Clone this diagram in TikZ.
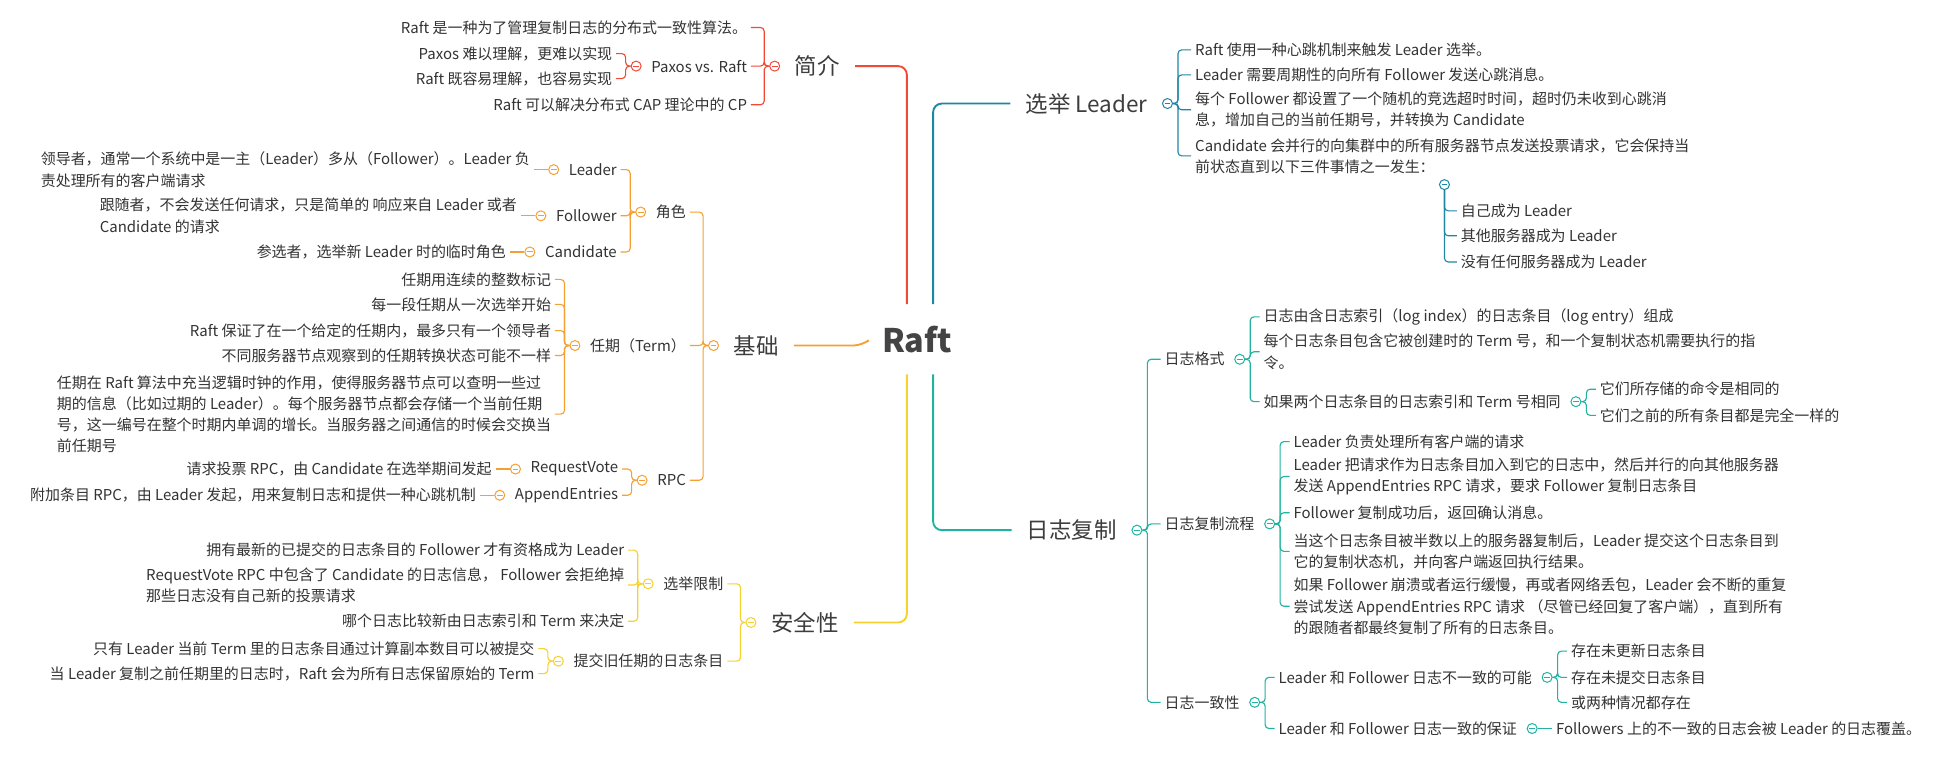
\documentclass[tikz,border=0pt]{standalone}
\usepackage{fontspec}
\setmainfont{Noto Sans CJK SC}
\definecolor{cred}{HTML}{EF4A36}
\definecolor{cora}{HTML}{F5A032}
\definecolor{cyel}{HTML}{F7D12E}
\definecolor{cblu}{HTML}{1F87A6}
\definecolor{cgrn}{HTML}{1FB3A0}
\definecolor{ctxt}{HTML}{333333}
\definecolor{cmain}{HTML}{3D3D3D}
\definecolor{craft}{HTML}{444444}
\tikzset{
  tx/.style={inner sep=0pt, text=ctxt, font=\fontsize{12}{17}\selectfont, align=left},
  tmain/.style={inner sep=0pt, text=cmain, font=\fontsize{18}{20}\selectfont},
  mk/.style={circle, draw=#1, fill=white, minimum size=8pt, inner sep=0pt, line width=0.8pt,
    path picture={\draw[#1, line width=0.8pt] ([xshift=-2.3pt]path picture bounding box.center) -- ([xshift=2.3pt]path picture bounding box.center);}},
  br/.style={draw=#1, line width=0.9pt, rounded corners=3pt},
  ml/.style={draw=#1, line width=1.5pt, rounded corners=7pt},
}
\begin{document}
\begin{tikzpicture}[x=1pt,y=-1pt]
\useasboundingbox (0,0) rectangle (1568,607);
\fill[white] (0,0) rectangle (1568,607);

% centre
\node[font=\fontsize{26}{30}\selectfont\bfseries, text=craft, inner sep=0pt, minimum width=80pt, minimum height=56pt] (raft) at (735,272) {Raft};

% ================= 简介 =================
\node[tmain, anchor=west] (jj) at (637,53) {简介};
\node[mk=cred] (jjm) at ([xshift=-16pt]jj.west) {};
\node[tx, anchor=east] (jj1) at ([xshift=-38pt,yshift=31pt]jj.west) {Raft 是一种为了管理复制日志的分布式一致性算法。};
\node[tx, anchor=east] (jj2) at ([xshift=-38pt]jj.west) {Paxos vs. Raft};
\node[tx, anchor=east] (jj3) at ([xshift=-38pt,yshift=-31pt]jj.west) {Raft 可以解决分布式 CAP 理论中的 CP};
\node[mk=cred] (jj2m) at ([xshift=-12pt]jj2.west) {};
\node[tx, anchor=east] (jj21) at ([xshift=-31pt,yshift=10pt]jj2.west) {Paxos 难以理解，更难以实现};
\node[tx, anchor=east] (jj22) at ([xshift=-31pt,yshift=-10pt]jj2.west) {Raft 既容易理解，也容易实现};
\draw[ml=cred] ([xshift=12pt]jj.east) -| ([xshift=-8pt]raft.north);
\foreach \c in {jj1,jj2,jj3} \draw[br=cred] (jjm.west) -- ++(-4,0) |- ([xshift=3pt]\c.east);
\foreach \c in {jj21,jj22} \draw[br=cred] (jj2m.west) -- ++(-4,0) |- ([xshift=3pt]\c.east);

% ================= 基础 =================
\node[tmain, anchor=west] (jc) at (588,277) {基础};
\node[mk=cora] (jcm) at ([xshift=-16pt]jc.west) {};
\node[tx, anchor=east] (js) at ([xshift=-38pt,yshift=107pt]jc.west) {角色};
\node[tx, anchor=east] (rq) at ([xshift=-38pt]jc.west) {任期（Term）};
\node[tx, anchor=east] (rpc) at ([xshift=-38pt,yshift=-108pt]jc.west) {RPC};
\draw[ml=cora] ([xshift=12pt]jc.east) -- ([xshift=-4pt]raft.west |- jc.east) -- ([yshift=3pt]raft.west |- jc.east);
\foreach \c in {js,rq,rpc} \draw[br=cora] (jcm.west) -- ++(-4,0) |- ([xshift=3pt]\c.east);

% 角色
\node[mk=cora] (jsm) at ([xshift=-12pt]js.west) {};
\node[tx, anchor=east] (ld) at ([xshift=-31pt,yshift=34pt]js.west) {Leader};
\node[tx, anchor=east] (fl) at ([xshift=-31pt,yshift=-3pt]js.west) {Follower};
\node[tx, anchor=east] (cd) at ([xshift=-31pt,yshift=-32pt]js.west) {Candidate};
\foreach \c in {ld,fl,cd} \draw[br=cora] (jsm.west) -- ++(-4,0) |- ([xshift=3pt]\c.east);
\node[mk=cora] (ldm) at ([xshift=-12pt]ld.west) {};
\node[mk=cora] (flm) at ([xshift=-12pt]fl.west) {};
\node[mk=cora] (cdm) at ([xshift=-12pt]cd.west) {};
\node[tx, anchor=east] (ld1) at ([xshift=-31pt]ld.west) {领导者，通常一个系统中是一主（Leader）多从（Follower）。Leader 负\\责处理所有的客户端请求};
\node[tx, anchor=east] (fl1) at ([xshift=-31pt]fl.west) {跟随者，不会发送任何请求，只是简单的 响应来自 Leader 或者\\Candidate 的请求};
\node[tx, anchor=east] (cd1) at ([xshift=-31pt]cd.west) {参选者，选举新 Leader 时的临时角色};
\draw[br=cora] ([xshift=3pt]ld1.east) -- (ldm.west);
\draw[br=cora] ([xshift=3pt]fl1.east) -- (flm.west);
\draw[br=cora] ([xshift=3pt]cd1.east) -- (cdm.west);

% 任期
\node[mk=cora] (rqm) at ([xshift=-12pt]rq.west) {};
\node[tx, anchor=east] (rq1) at ([xshift=-31pt,yshift=53pt]rq.west) {任期用连续的整数标记};
\node[tx, anchor=east] (rq2) at ([xshift=-31pt,yshift=33pt]rq.west) {每一段任期从一次选举开始};
\node[tx, anchor=east] (rq3) at ([xshift=-31pt,yshift=12pt]rq.west) {Raft 保证了在一个给定的任期内，最多只有一个领导者};
\node[tx, anchor=east] (rq4) at ([xshift=-31pt,yshift=-8pt]rq.west) {不同服务器节点观察到的任期转换状态可能不一样};
\node[tx, anchor=east] (rq5) at ([xshift=-31pt,yshift=-55pt]rq.west) {任期在 Raft 算法中充当逻辑时钟的作用，使得服务器节点可以查明一些过\\期的信息（比如过期的 Leader）。每个服务器节点都会存储一个当前任期\\号，这一编号在整个时期内单调的增长。当服务器之间通信的时候会交换当\\前任期号};
\foreach \c in {rq1,rq2,rq3,rq4,rq5} \draw[br=cora] (rqm.west) -- ++(-4,0) |- ([xshift=3pt]\c.east);

% RPC
\node[mk=cora] (rpcm) at ([xshift=-12pt]rpc.west) {};
\node[tx, anchor=east] (rv) at ([xshift=-31pt,yshift=9pt]rpc.west) {RequestVote};
\node[tx, anchor=east] (ae) at ([xshift=-31pt,yshift=-12pt]rpc.west) {AppendEntries};
\foreach \c in {rv,ae} \draw[br=cora] (rpcm.west) -- ++(-4,0) |- ([xshift=3pt]\c.east);
\node[mk=cora] (rvm) at ([xshift=-12pt]rv.west) {};
\node[mk=cora] (aem) at ([xshift=-12pt]ae.west) {};
\node[tx, anchor=east] (rv1) at ([xshift=-31pt]rv.west) {请求投票 RPC，由 Candidate 在选举期间发起};
\node[tx, anchor=east] (ae1) at ([xshift=-31pt]ae.west) {附加条目 RPC，由 Leader 发起，用来复制日志和提供一种心跳机制};
\draw[br=cora] ([xshift=3pt]rv1.east) -- (rvm.west);
\draw[br=cora] ([xshift=3pt]ae1.east) -- (aem.west);

% ================= 安全性 =================
\node[tmain, anchor=west] (aq) at (618,499) {安全性};
\node[mk=cyel] (aqm) at ([xshift=-16pt]aq.west) {};
\node[tx, anchor=east] (xz) at ([xshift=-38pt,yshift=31pt]aq.west) {选举限制};
\node[tx, anchor=east] (tj) at ([xshift=-38pt,yshift=-31pt]aq.west) {提交旧任期的日志条目};
\draw[ml=cyel] ([xshift=-8pt]raft.south) |- ([xshift=12pt]aq.east);
\foreach \c in {xz,tj} \draw[br=cyel] (aqm.west) -- ++(-4,0) |- ([xshift=3pt]\c.east);
\node[mk=cyel] (xzm) at ([xshift=-12pt]xz.west) {};
\node[tx, anchor=east] (xz1) at ([xshift=-31pt,yshift=27pt]xz.west) {拥有最新的已提交的日志条目的 Follower 才有资格成为 Leader};
\node[tx, anchor=east] (xz2) at ([xshift=-31pt,yshift=-1pt]xz.west) {RequestVote RPC 中包含了 Candidate 的日志信息， Follower 会拒绝掉\\那些日志没有自己新的投票请求};
\node[tx, anchor=east] (xz3) at ([xshift=-31pt,yshift=-30pt]xz.west) {哪个日志比较新由日志索引和 Term 来决定};
\foreach \c in {xz1,xz2,xz3} \draw[br=cyel] (xzm.west) -- ++(-4,0) |- ([xshift=3pt]\c.east);
\node[mk=cyel] (tjm) at ([xshift=-12pt]tj.west) {};
\node[tx, anchor=east] (tj1) at ([xshift=-31pt,yshift=10pt]tj.west) {只有 Leader 当前 Term 里的日志条目通过计算副本数目可以被提交};
\node[tx, anchor=east] (tj2) at ([xshift=-31pt,yshift=-10pt]tj.west) {当 Leader 复制之前任期里的日志时，Raft 会为所有日志保留原始的 Term};
\foreach \c in {tj1,tj2} \draw[br=cyel] (tjm.west) -- ++(-4,0) |- ([xshift=3pt]\c.east);

% ================= 选举 Leader =================
\node[tmain, anchor=west] (xl) at (822,83) {选举 Leader};
\node[mk=cblu] (xlm) at ([xshift=16pt]xl.east) {};
\draw[ml=cblu] ([xshift=13pt]raft.north) |- ([xshift=-12pt]xl.west);
\node[tx, anchor=west] (xl1) at ([xshift=38pt,yshift=43pt]xl.east) {Raft 使用一种心跳机制来触发 Leader 选举。};
\node[tx, anchor=west] (xl2) at ([xshift=38pt,yshift=23pt]xl.east) {Leader 需要周期性的向所有 Follower 发送心跳消息。};
\node[tx, anchor=west] (xl3) at ([xshift=38pt,yshift=-5pt]xl.east) {每个 Follower 都设置了一个随机的竞选超时时间，超时仍未收到心跳消\\息，增加自己的当前任期号，并转换为 Candidate};
\node[tx, anchor=west] (xl4) at ([xshift=38pt,yshift=-42pt]xl.east) {Candidate 会并行的向集群中的所有服务器节点发送投票请求，它会保持当\\前状态直到以下三件事情之一发生：};
\foreach \c in {xl1,xl2,xl3,xl4} \draw[br=cblu] (xlm.east) -- ++(4,0) |- ([xshift=-3pt]\c.west);
\node[mk=cblu] (xe) at ([xshift=200pt,yshift=-23pt]xl4.west) {};
\node[tx, anchor=west] (xe1) at ([xshift=13pt,yshift=-21pt]xe.center) {自己成为 Leader};
\node[tx, anchor=west] (xe2) at ([xshift=13pt,yshift=-41pt]xe.center) {其他服务器成为 Leader};
\node[tx, anchor=west] (xe3) at ([xshift=13pt,yshift=-62pt]xe.center) {没有任何服务器成为 Leader};
\foreach \c in {xe1,xe2,xe3} \draw[br=cblu] (xe.south) |- ([xshift=-3pt]\c.west);

% ================= 日志复制 =================
\node[tmain, anchor=west] (rz) at (823,425) {日志复制};
\node[mk=cgrn] (rzm) at ([xshift=16pt]rz.east) {};
\draw[ml=cgrn] ([xshift=13pt]raft.south) |- ([xshift=-12pt]rz.west);
\node[tx, anchor=west] (gs) at ([xshift=38pt,yshift=137pt]rz.east) {日志格式};
\node[tx, anchor=west] (lc) at ([xshift=38pt,yshift=5pt]rz.east) {日志复制流程};
\node[tx, anchor=west] (yz) at ([xshift=38pt,yshift=-138pt]rz.east) {日志一致性};
\foreach \c in {gs,lc,yz} \draw[br=cgrn] (rzm.east) -- ++(4,0) |- ([xshift=-3pt]\c.west);

% 日志格式
\node[mk=cgrn] (gsm) at ([xshift=12pt]gs.east) {};
\node[tx, anchor=west] (gs1) at ([xshift=31pt,yshift=34pt]gs.east) {日志由含日志索引（log index）的日志条目（log entry）组成};
\node[tx, anchor=west] (gs2) at ([xshift=31pt,yshift=6pt]gs.east) {每个日志条目包含它被创建时的 Term 号，和一个复制状态机需要执行的指\\令。};
\node[tx, anchor=west] (gs3) at ([xshift=31pt,yshift=-34pt]gs.east) {如果两个日志条目的日志索引和 Term 号相同};
\foreach \c in {gs1,gs2,gs3} \draw[br=cgrn] (gsm.east) -- ++(4,0) |- ([xshift=-3pt]\c.west);
\node[mk=cgrn] (gs3m) at ([xshift=12pt]gs3.east) {};
\node[tx, anchor=west] (gs31) at ([xshift=31pt,yshift=10pt]gs3.east) {它们所存储的命令是相同的};
\node[tx, anchor=west] (gs32) at ([xshift=31pt,yshift=-11pt]gs3.east) {它们之前的所有条目都是完全一样的};
\foreach \c in {gs31,gs32} \draw[br=cgrn] (gs3m.east) -- ++(4,0) |- ([xshift=-3pt]\c.west);

% 日志复制流程
\node[mk=cgrn] (lcm) at ([xshift=12pt]lc.east) {};
\node[tx, anchor=west] (lc1) at ([xshift=31pt,yshift=66pt]lc.east) {Leader 负责处理所有客户端的请求};
\node[tx, anchor=west] (lc2) at ([xshift=31pt,yshift=38pt]lc.east) {Leader 把请求作为日志条目加入到它的日志中，然后并行的向其他服务器\\发送 AppendEntries RPC 请求，要求 Follower 复制日志条目};
\node[tx, anchor=west] (lc3) at ([xshift=31pt,yshift=9pt]lc.east) {Follower 复制成功后，返回确认消息。};
\node[tx, anchor=west] (lc4) at ([xshift=31pt,yshift=-22pt]lc.east) {当这个日志条目被半数以上的服务器复制后，Leader 提交这个日志条目到\\它的复制状态机，并向客户端返回执行结果。};
\node[tx, anchor=west] (lc5) at ([xshift=31pt,yshift=-66pt]lc.east) {如果 Follower 崩溃或者运行缓慢，再或者网络丢包，Leader 会不断的重复\\尝试发送 AppendEntries RPC 请求 （尽管已经回复了客户端），直到所有\\的跟随者都最终复制了所有的日志条目。};
\foreach \c in {lc1,lc2,lc3,lc4,lc5} \draw[br=cgrn] (lcm.east) -- ++(4,0) |- ([xshift=-3pt]\c.west);

% 日志一致性
\node[mk=cgrn] (yzm) at ([xshift=12pt]yz.east) {};
\node[tx, anchor=west] (yz1) at ([xshift=31pt,yshift=20pt]yz.east) {Leader 和 Follower 日志不一致的可能};
\node[tx, anchor=west] (yz2) at ([xshift=31pt,yshift=-21pt]yz.east) {Leader 和 Follower 日志一致的保证};
\foreach \c in {yz1,yz2} \draw[br=cgrn] (yzm.east) -- ++(4,0) |- ([xshift=-3pt]\c.west);
\node[mk=cgrn] (yz1m) at ([xshift=12pt]yz1.east) {};
\node[tx, anchor=west] (yz11) at ([xshift=31pt,yshift=21pt]yz1.east) {存在未更新日志条目};
\node[tx, anchor=west] (yz12) at ([xshift=31pt]yz1.east) {存在未提交日志条目};
\node[tx, anchor=west] (yz13) at ([xshift=31pt,yshift=-20pt]yz1.east) {或两种情况都存在};
\foreach \c in {yz11,yz12,yz13} \draw[br=cgrn] (yz1m.east) -- ++(4,0) |- ([xshift=-3pt]\c.west);
\node[mk=cgrn] (yz2m) at ([xshift=12pt]yz2.east) {};
\node[tx, anchor=west] (yz21) at ([xshift=31pt]yz2.east) {Followers 上的不一致的日志会被 Leader 的日志覆盖。};
\draw[br=cgrn] (yz2m.east) -- ([xshift=-3pt]yz21.west);
\end{tikzpicture}
\end{document}
